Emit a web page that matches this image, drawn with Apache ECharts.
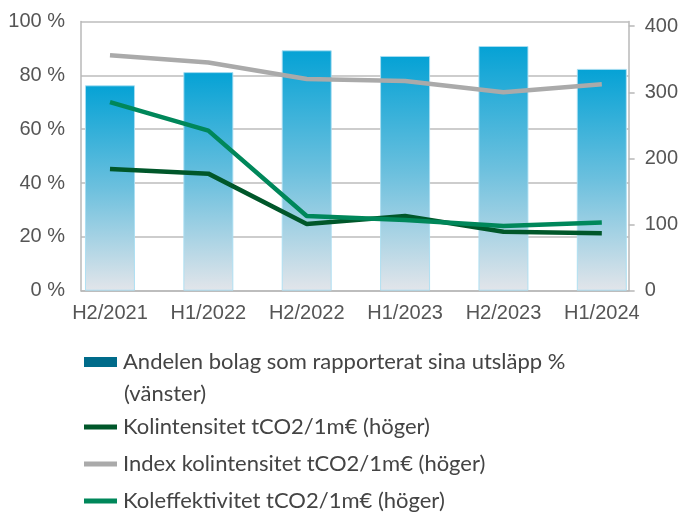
<!DOCTYPE html>
<html>
<head>
<meta charset="utf-8">
<script src="https://cdn.jsdelivr.net/npm/echarts@6/dist/echarts.min.js"></script>
<style>
html,body{margin:0;padding:0;background:#fff;}
#chart{width:681px;height:513px;}
</style>
</head>
<body>
<div id="chart"></div>
<script>
var categories = ['H2/2021','H1/2022','H2/2022','H1/2023','H2/2023','H1/2024'];
var andelen = [76.3, 81.2, 89.3, 87.2, 90.9, 82.4];
var kolintensitet = [184, 177, 101, 113, 89, 87];
var indexKol = [356, 345, 320, 317, 300, 312];
var koleffektivitet = [285, 242, 113, 107, 98, 103];
var rightTicks = [0, 100, 200, 300, 400];

var names = [
  'Andelen bolag som rapporterat sina utsläpp %',
  'Kolintensitet tCO2/1m€ (höger)',
  'Index kolintensitet tCO2/1m€ (höger)',
  'Koleffektivitet tCO2/1m€ (höger)'
];
var legendSecondLine = '(vänster)';

var chart = echarts.init(document.getElementById('chart'));
var axisFont = {fontFamily: '"Liberation Sans", Arial, sans-serif', fontSize: 20, color: '#555'};
var legendFont = {fontFamily: 'Lato, sans-serif', fontSize: 22, color: '#444'};

chart.setOption({
  animation: false,
  grid: [
    {left: 81, right: 51, top: 21.5, bottom: 222.3, containLabel: false},
    {left: 60.8, right: 30, top: 21.5, bottom: 222.3, containLabel: false}
  ],
  xAxis: [
    {type: 'value', gridIndex: 0, min: 0, max: 1, show: true,
     axisLine: {show: true, lineStyle: {color: '#b8b8b8', width: 1.5}},
     axisTick: {show: false}, axisLabel: {show: false}, splitLine: {show: false}},
    {type: 'category', gridIndex: 1, data: categories, boundaryGap: true,
     axisLine: {show: false}, axisTick: {show: false},
     axisLabel: Object.assign({margin: 13, interval: 0}, axisFont)}
  ],
  yAxis: [
    {type: 'value', gridIndex: 0, position: 'left', min: 0, max: 100, interval: 20,
     axisLine: {show: true, lineStyle: {color: '#b8b8b8', width: 1.5}},
     axisTick: {show: false},
     axisLabel: Object.assign({margin: 16, formatter: '{value} %'}, axisFont),
     splitLine: {show: true, lineStyle: {color: '#bdbdbd', width: 1.5}}},
    {type: 'value', gridIndex: 0, position: 'right', min: 0, max: 407,
     axisLine: {show: true, lineStyle: {color: '#b8b8b8', width: 1.5}},
     axisTick: {show: true, length: 6, customValues: rightTicks, lineStyle: {color: '#b8b8b8', width: 1.5}},
     axisLabel: Object.assign({margin: 16, customValues: rightTicks}, axisFont),
     splitLine: {show: false}},
    {type: 'value', gridIndex: 1, min: 0, max: 100, show: false},
    {type: 'value', gridIndex: 1, min: 0, max: 407, show: false}
  ],
  legend: [
    {data: [{name: names[0], itemStyle: {color: '#006b8a', borderWidth: 0}}],
     orient: 'vertical', left: 84, top: 351, padding: 0,
     itemWidth: 33, itemHeight: 10, icon: 'rect',
     textStyle: Object.assign({lineHeight: 22, padding: [0, 0, 0, 1]}, legendFont)},
    {data: [names[1], names[2], names[3]],
     orient: 'vertical', left: 84, top: 416, padding: 0, itemGap: 15,
     itemWidth: 33, itemHeight: 5, icon: 'rect',
     textStyle: Object.assign({lineHeight: 22, padding: [0, 0, 0, 1]}, legendFont)}
  ],
  graphic: [
    {type: 'text', left: 124, top: 383,
     style: {text: legendSecondLine, font: '22px Lato, sans-serif', fill: '#444'}}
  ],
  series: [
    {name: names[0], type: 'bar', xAxisIndex: 1, yAxisIndex: 2, data: andelen, barWidth: 50,
     z: 2,
     itemStyle: {
       borderColor: 'rgba(170,222,242,0.9)', borderWidth: 1,
       color: new echarts.graphic.LinearGradient(0, 0, 0, 1, [
         {offset: 0, color: '#05a2d5'},
         {offset: 0.5, color: '#6cc0de'},
         {offset: 1, color: '#e2e5ea'}
       ])
     }},
    {name: names[1], type: 'line', xAxisIndex: 1, yAxisIndex: 3, data: kolintensitet,
     symbol: 'none', z: 3, color: '#00572a', lineStyle: {color: '#00572a', width: 4.5}},
    {name: names[2], type: 'line', xAxisIndex: 1, yAxisIndex: 3, data: indexKol,
     symbol: 'none', z: 3, color: '#aaaaaa', lineStyle: {color: '#aaaaaa', width: 4.5}},
    {name: names[3], type: 'line', xAxisIndex: 1, yAxisIndex: 3, data: koleffektivitet,
     symbol: 'none', z: 3, color: '#00875a', lineStyle: {color: '#00875a', width: 4.5}}
  ]
});
</script>
</body>
</html>
